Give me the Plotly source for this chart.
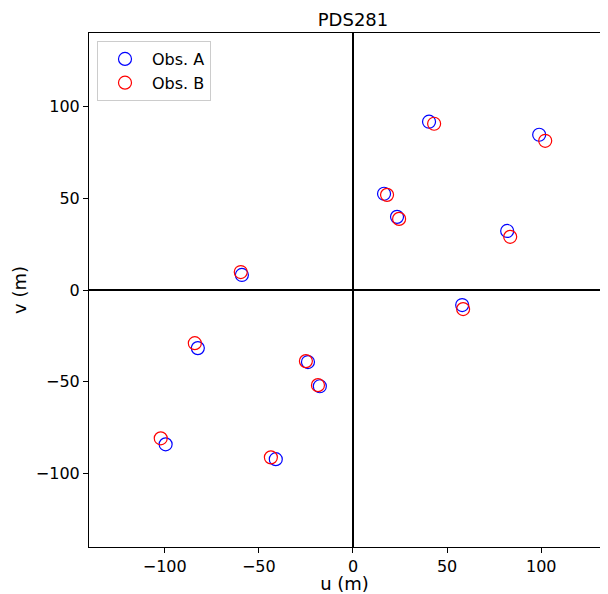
import plotly.graph_objects as go

u_a = [40.4, 98.9, 16.5, 23.4, 81.9, 58.0, -59.0, -82.4, -23.9, -17.6, -99.5, -41.0]
v_a = [91.8, 84.7, 52.5, 39.9, 32.2, -8.2, 8.2, -31.7, -39.3, -52.5, -84.2, -92.3]
u_b = [43.1, 102.1, 18.1, 24.5, 83.5, 58.5, -59.6, -84.0, -25.0, -18.6, -102.1, -43.6]
v_b = [90.7, 81.4, 51.9, 38.8, 29.0, -10.4, 9.8, -29.0, -38.8, -51.9, -80.9, -91.3]
ticks = [-100, -50, 0, 50, 100]
tick_text = ["\u2212100", "\u221250", "0", "50", "100"]

font = "DejaVu Sans"
W, H = 592, 586
fig = go.Figure()
fig.add_trace(go.Scatter(x=u_a, y=v_a, mode="markers", name="Obs. A",
                         marker=dict(symbol="circle-open", size=13, color="#0000ff", line=dict(width=1.2))))
fig.add_trace(go.Scatter(x=u_b, y=v_b, mode="markers", name="Obs. B",
                         marker=dict(symbol="circle-open", size=13, color="#ff0000", line=dict(width=1.2))))

fig.update_layout(
    width=W, height=H,
    margin=dict(l=81, r=0, t=25, b=47, autoexpand=False),
    plot_bgcolor="white", paper_bgcolor="white",
    font=dict(family=font, size=16, color="black"),
    title=dict(text="PDS281", x=345/W, xref="container", xanchor="center",
               y=1-12/H, yref="container", yanchor="middle", font=dict(size=18)),
    xaxis=dict(range=[-140.2, 131.2], tickvals=ticks, ticktext=tick_text,
               showgrid=False, zeroline=True, zerolinecolor="black", zerolinewidth=1.6,
               showline=True, linecolor="black", linewidth=1, mirror=True,
               ticks="outside", ticklen=5, tickcolor="black",
               title=dict(text="u (m)", font=dict(size=18), standoff=10)),
    yaxis=dict(range=[-140.2, 140.2], tickvals=ticks, ticktext=tick_text,
               showgrid=False, zeroline=True, zerolinecolor="black", zerolinewidth=1.6,
               showline=True, linecolor="black", linewidth=1, mirror=False,
               ticks="outside", ticklen=5, tickcolor="black",
               title=dict(text="v (m)", font=dict(size=18), standoff=4)),
    legend=dict(x=8/511, y=1-8/514, xanchor="left", yanchor="top",
                bgcolor="white", bordercolor="#cccccc", borderwidth=1,
                itemwidth=44, font=dict(size=16)),
    showlegend=True,
)
fig.write_html("out.html")
